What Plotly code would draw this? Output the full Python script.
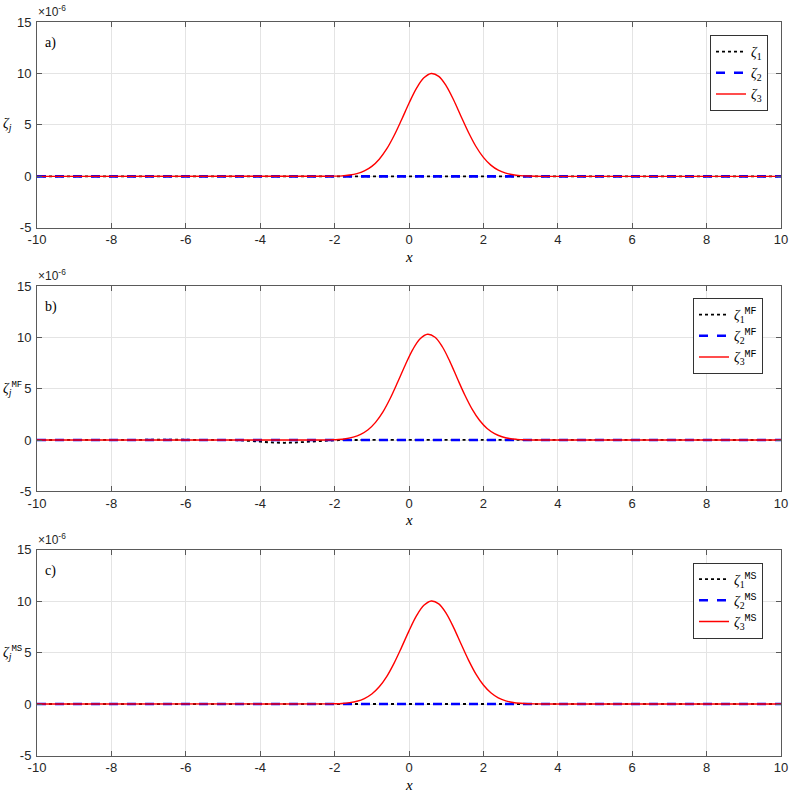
import plotly.graph_objects as go
from plotly.subplots import make_subplots

# values in units of 1e-6
x_flat = [-10.0, 10.0]
z_flat = [0.0, 0.0]

xa = [-10.0, -2.2, -2.0, -1.8, -1.6, -1.4, -1.2, -1.0, -0.8, -0.6, -0.4, -0.2, 0.0, 0.2, 0.4, 0.6,
      0.8, 1.0, 1.2, 1.4, 1.6, 1.8, 2.0, 2.2, 2.4, 2.6, 2.8, 3.0, 3.2, 3.4, 3.6, 10.0]
za3 = [0, 0.01, 0.02, 0.05, 0.13, 0.27, 0.53, 0.97, 1.67, 2.66, 3.97, 5.50, 7.10, 8.55, 9.58, 10.0,
       9.72, 8.80, 7.42, 5.82, 4.26, 2.90, 1.84, 1.09, 0.60, 0.31, 0.15, 0.07, 0.03, 0.01, 0, 0]

xb = [-10.0, -2.3, -2.1, -1.9, -1.7, -1.5, -1.3, -1.1, -0.9, -0.7, -0.5, -0.3, -0.1, 0.1, 0.3, 0.5,
      0.7, 0.9, 1.1, 1.3, 1.5, 1.7, 1.9, 2.1, 2.3, 2.5, 2.7, 2.9, 3.1, 3.3, 3.5, 10.0]
zb3 = [0, 0.01, 0.02, 0.05, 0.13, 0.28, 0.55, 1.00, 1.72, 2.74, 4.09, 5.67, 7.31, 8.81, 9.87, 10.30,
       10.01, 9.06, 7.64, 5.99, 4.39, 2.99, 1.90, 1.12, 0.62, 0.32, 0.15, 0.07, 0.03, 0.01, 0, 0]
xb1 = [-10.0, -4.8, -4.4, -4.0, -3.6, -3.2, -2.8, -2.4, -2.0, -1.6, 10.0]
zb1 = [0, 0, -0.06, -0.16, -0.25, -0.26, -0.19, -0.10, -0.03, 0, 0]

xc = xa
zc3 = [0, 0.01, 0.02, 0.05, 0.13, 0.27, 0.53, 0.97, 1.67, 2.66, 3.97, 5.50, 7.10, 8.55, 9.58, 10.0,
       9.72, 8.80, 7.42, 5.82, 4.26, 2.90, 1.84, 1.09, 0.60, 0.31, 0.15, 0.07, 0.03, 0.01, 0, 0]

x_ticks = [-10, -8, -6, -4, -2, 0, 2, 4, 6, 8, 10]
x_labels = ['-10', '-8', '-6', '-4', '-2', '0', '2', '4', '6', '8', '10']
y_ticks = [-5, 0, 5, 10, 15]
y_labels = ['-5', '0', '5', '10', '15']

panel_tags = ['a)', 'b)', 'c)']
sups = ['', 'MF', 'MS']

SERIF = 'Liberation Serif'
MONO = 'Liberation Mono'


def zeta(idx, sup):
    s = '<i>ζ</i><sub>%s</sub>' % idx
    if sup:
        s += '<sup><span style="font-family:%s;font-size:10px">%s</span></sup>' % (MONO, sup)
    return s


fig = make_subplots(rows=3, cols=1)

data = [
    (x_flat, z_flat, x_flat, z_flat, xa, za3),
    (xb1, zb1, x_flat, z_flat, xb, zb3),
    (x_flat, z_flat, x_flat, z_flat, xc, zc3),
]

legends = ['legend', 'legend2', 'legend3']
for i, (x1, z1, x2, z2, x3, z3) in enumerate(data):
    row = i + 1
    lg = legends[i]
    fig.add_trace(go.Scatter(x=x1, y=z1, mode='lines', name=zeta(1, sups[i]),
                             line=dict(color='black', width=1.8, dash='dot'),
                             line_shape='spline', legend=lg), row=row, col=1)
    fig.add_trace(go.Scatter(x=x2, y=z2, mode='lines', name=zeta(2, sups[i]),
                             line=dict(color='blue', width=2.6, dash='dash'), legend=lg),
                  row=row, col=1)
    fig.add_trace(go.Scatter(x=x3, y=z3, mode='lines', name=zeta(3, sups[i]),
                             line=dict(color='red', width=1.4), line_shape='spline', legend=lg),
                  row=row, col=1)

# pixel layout of the reference
W, H = 789, 801
L, R, T, B = 37, 8, 22, 45
ph = H - T - B
panels_px = [(22, 227.8), (286, 491.4), (549.5, 755.5)]


def py2paper(py):
    return (H - B - py) / ph


for i, (top, bot) in enumerate(panels_px):
    yax = 'yaxis' if i == 0 else 'yaxis%d' % (i + 1)
    xax = 'xaxis' if i == 0 else 'xaxis%d' % (i + 1)
    fig.layout[yax].domain = [max(0, py2paper(bot)), min(1, py2paper(top))]
    fig.layout[xax].domain = [0, 1]

fig.update_xaxes(range=[-10, 10], tickvals=x_ticks, ticktext=x_labels, automargin=False,
                 showgrid=True, gridcolor='#e4e4e4', gridwidth=1, zeroline=False,
                 showline=True, linecolor='#5a5a5a', linewidth=1, mirror='ticks',
                 ticks='inside', ticklen=5, tickcolor='#5a5a5a', ticklabelstandoff=0,
                 tickfont=dict(family='Liberation Sans', size=13, color='#262626'))
fig.update_yaxes(range=[-5, 15], tickvals=y_ticks, ticktext=y_labels, automargin=False,
                 showgrid=True, gridcolor='#e4e4e4', gridwidth=1, zeroline=False,
                 showline=True, linecolor='#5a5a5a', linewidth=1, mirror='ticks',
                 ticks='inside', ticklen=5, tickcolor='#5a5a5a', ticklabelstandoff=2,
                 tickfont=dict(family='Liberation Sans', size=13, color='#262626'))

ann = []
for i in range(3):
    xr = 'x domain' if i == 0 else 'x%d domain' % (i + 1)
    yr = 'y domain' if i == 0 else 'y%d domain' % (i + 1)
    ann.append(dict(xref=xr, yref=yr, x=0, y=1, xanchor='left', yanchor='bottom',
                    xshift=-1, yshift=1, showarrow=False,
                    text='×10<sup>-6</sup>',
                    font=dict(family='Liberation Sans', size=12, color='#262626')))
    ann.append(dict(xref=xr, yref=yr, x=0, y=1, xanchor='left', yanchor='middle',
                    xshift=6, yshift=-21, showarrow=False, text=panel_tags[i],
                    font=dict(family=SERIF, size=14, color='black')))
    ylab = '<i>ζ</i><sub><i>j</i></sub>'
    if sups[i]:
        ylab += '<sup><span style="font-family:%s;font-size:9px">%s</span></sup>' % (MONO, sups[i])
    ann.append(dict(xref=xr, yref=yr, x=0, y=0.5, xanchor='left', yanchor='middle',
                    xshift=-36, showarrow=False, text=ylab,
                    font=dict(family=SERIF, size=14, color='black')))
    ann.append(dict(xref=xr, yref=yr, x=0.5, y=0, xanchor='center', yanchor='middle',
                    yshift=-29, showarrow=False, text='<i>x</i>',
                    font=dict(family=SERIF, size=15, color='black')))

legend_style = dict(bgcolor='white', bordercolor='#333333', borderwidth=1,
                    font=dict(family=SERIF, size=14, color='black'),
                    xanchor='right', yanchor='top', tracegroupgap=0)
leg_pos = [(768, 35), (763, 298), (763, 562.5)]
for i, lg in enumerate(legends):
    xp = (leg_pos[i][0] - L) / (W - L - R)
    yp = py2paper(leg_pos[i][1])
    fig.layout[lg] = dict(legend_style, x=xp, y=yp)

fig.update_layout(width=W, height=H, margin=dict(l=L, r=R, t=T, b=B, autoexpand=False),
                  plot_bgcolor='white', paper_bgcolor='white',
                  annotations=ann, showlegend=True)

# drop the browser's default 8px body margin so the figure sits at the page corner
fig.write_html("out.html", config={'displayModeBar': False},
               post_script="document.body.style.margin='0';")
